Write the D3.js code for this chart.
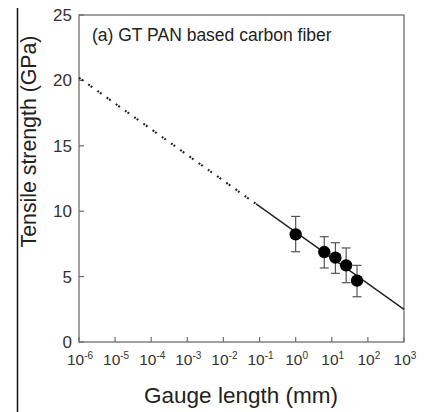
<!DOCTYPE html>
<html><head><meta charset="utf-8">
<script src="https://cdn.jsdelivr.net/npm/d3@7"></script>
<style>body{margin:0;background:#fff;} svg{display:block;font-family:"Liberation Sans",Arial,sans-serif;}</style>
</head><body>
<svg id="c" width="424" height="412"></svg>
<script>
// Data
const gaugeLength = [1, 6.2, 12.6, 25, 50];          // mm
const strength    = [8.23, 6.88, 6.45, 5.86, 4.69];  // GPa
const errLow      = [6.9, 5.66, 5.25, 4.53, 3.46];
const errHigh     = [9.6, 8.05, 7.59, 7.19, 5.86];
const fitIntercept = 8.4;    // GPa at 1 mm
const fitSlope = -1.967;     // GPa per decade
const dottedRange = [1e-6, 0.08];
const solidRange = [0.08, 1000];
const xTickExps = [-6,-5,-4,-3,-2,-1,0,1,2,3];
const yTicks = [0,5,10,15,20,25];
const title = "(a) GT PAN based carbon fiber";

const svg = d3.select("#c");
const m = {l:79, r:404, t:15, b:342};
const x = d3.scaleLog().domain([1e-6,1e3]).range([m.l,m.r]);
const y = d3.scaleLinear().domain([0,25]).range([m.b,m.t]);
const axisCol = "#6e6e6e";

// frame
svg.append("rect").attr("x",m.l).attr("y",m.t).attr("width",m.r-m.l).attr("height",m.b-m.t)
  .attr("fill","none").attr("stroke",axisCol).attr("stroke-width",1.3);

// y ticks (inward)
yTicks.forEach(v=>{
  svg.append("line").attr("x1",m.l).attr("x2",m.l+5).attr("y1",y(v)).attr("y2",y(v)).attr("stroke",axisCol).attr("stroke-width",1.2);
  svg.append("text").attr("x",72).attr("y",y(v)+6).attr("text-anchor","end")
    .attr("font-size",17).attr("fill","#333").text(v);
});
// x ticks (inward)
xTickExps.forEach(e=>{
  const px = x(Math.pow(10,e));
  svg.append("line").attr("x1",px).attr("x2",px).attr("y1",m.b).attr("y2",m.b-5).attr("stroke",axisCol).attr("stroke-width",1.2);
  const t = svg.append("text").attr("x",px+1).attr("y",365).attr("text-anchor","middle").attr("font-size",15.5).attr("fill","#333");
  t.append("tspan").text("10");
  t.append("tspan").attr("dy",-6).attr("font-size",10).text(e);
});

// fit line
const fit = L => fitIntercept + fitSlope*Math.log10(L);
svg.append("line").attr("x1",x(dottedRange[0])).attr("y1",y(fit(dottedRange[0])))
  .attr("x2",x(dottedRange[1])).attr("y2",y(fit(dottedRange[1])))
  .attr("stroke","#222").attr("stroke-width",2.1).attr("stroke-dasharray","1.9,1.2,1.9,6.3");
svg.append("line").attr("x1",x(solidRange[0])).attr("y1",y(fit(solidRange[0])))
  .attr("x2",x(solidRange[1])).attr("y2",y(fit(solidRange[1])))
  .attr("stroke","#222").attr("stroke-width",1.4);

// error bars and points
gaugeLength.forEach((g,i)=>{
  const px = x(g);
  svg.append("line").attr("x1",px).attr("x2",px).attr("y1",y(errLow[i])).attr("y2",y(errHigh[i])).attr("stroke","#555").attr("stroke-width",1.2);
  [errLow[i],errHigh[i]].forEach(v=>svg.append("line").attr("x1",px-4.5).attr("x2",px+4.5).attr("y1",y(v)).attr("y2",y(v)).attr("stroke","#555").attr("stroke-width",1.2));
});
svg.selectAll("circle.p").data(gaugeLength).enter().append("circle")
  .attr("cx",d=>x(d)).attr("cy",(d,i)=>y(strength[i])).attr("r",6.2).attr("fill","#000");

// title
svg.append("text").attr("x",92).attr("y",40.5).attr("font-size",17.5).attr("fill","#222").text(title);

// axis labels
svg.append("text").attr("x",241).attr("y",403).attr("text-anchor","middle").attr("font-size",22.5).attr("fill","#222").text("Gauge length (mm)");
svg.append("text").attr("transform","translate(36,141.5) rotate(-90)").attr("text-anchor","middle").attr("font-size",21.3).attr("fill","#222").text("Tensile strength (GPa)");

// left artifact line
svg.append("line").attr("x1",17.5).attr("x2",17.5).attr("y1",8).attr("y2",412).attr("stroke","#111").attr("stroke-width",1.5);
</script>
</body></html>
